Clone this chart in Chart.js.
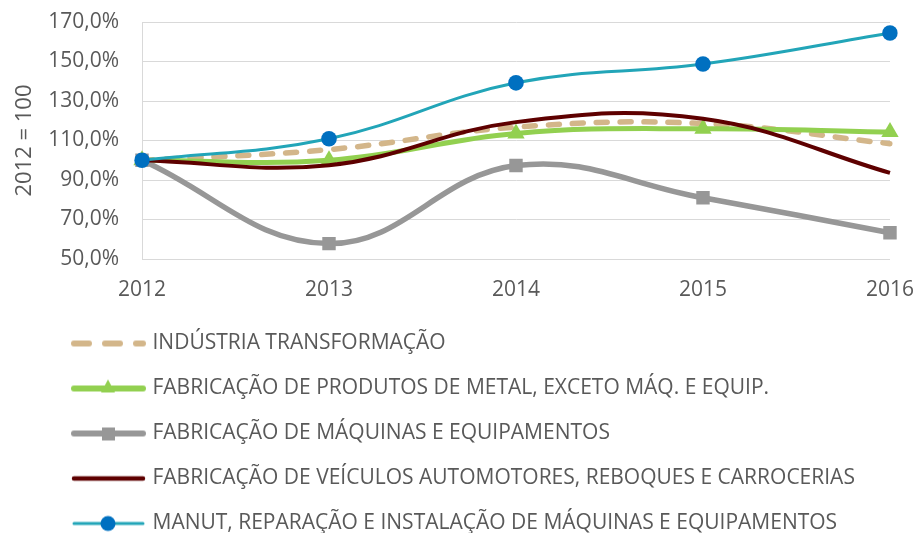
<!DOCTYPE html>
<html>
<head>
<meta charset="utf-8">
<script src="https://cdn.jsdelivr.net/npm/chart.js@4"></script>
<style>
  body { margin: 0; background: #fff; }
  .wrap { width: 914px; height: 533px; position: relative; }
</style>
</head>
<body>
<div class="wrap"><canvas id="myChart"></canvas></div>
<script>
const years = ['2012', '2013', '2014', '2015', '2016'];
const industria = [100, 105.4, 116.8, 118.6, 108.4];
const metal = [100, 100, 113.6, 116, 114.3];
const maquinas = [100, 57.8, 97.3, 81, 63.3];
const veiculos = [100, 97.5, 119.3, 121, 93.6];
const manut = [100, 110.9, 139.2, 148.7, 164.4];
const seriesNames = [
  'INDÚSTRIA TRANSFORMAÇÃO',
  'FABRICAÇÃO DE PRODUTOS DE METAL, EXCETO MÁQ. E EQUIP.',
  'FABRICAÇÃO DE MÁQUINAS E EQUIPAMENTOS',
  'FABRICAÇÃO DE VEÍCULOS AUTOMOTORES, REBOQUES E CARROCERIAS',
  'MANUT, REPARAÇÃO E INSTALAÇÃO DE MÁQUINAS E EQUIPAMENTOS'
];
const yMin = 50, yMax = 170, yStep = 20;

const tan = '#D3B68A', green = '#92D050', gray = '#979797', darkred = '#5E0000', teal = '#22A5B8', blue = '#0070C0';
const textColor = '#595959';

// small canvases used as legend symbols (line + marker)
function legendIcon(draw) {
  const c = document.createElement('canvas');
  c.width = 80; c.height = 22;
  const g = c.getContext('2d');
  draw(g);
  return c;
}
function iconLine(g, color, w, dash) {
  g.strokeStyle = color;
  g.lineWidth = w;
  g.lineCap = 'round';
  if (dash) g.setLineDash(dash);
  g.beginPath();
  g.moveTo(7, 11);
  g.lineTo(76, 11);
  g.stroke();
  g.setLineDash([]);
}

const icons = [
  legendIcon(g => iconLine(g, tan, 6, [15, 16])),
  legendIcon(g => {
    iconLine(g, green, 6);
    g.fillStyle = green;
    g.beginPath(); g.moveTo(41, 2); g.lineTo(48, 15); g.lineTo(34, 15); g.closePath(); g.fill();
  }),
  legendIcon(g => {
    iconLine(g, gray, 6);
    g.fillStyle = gray;
    g.fillRect(35, 5, 13, 13);
  }),
  legendIcon(g => iconLine(g, darkred, 4.5)),
  legendIcon(g => {
    iconLine(g, teal, 3);
    g.fillStyle = blue;
    g.beginPath(); g.arc(41, 11, 7.5, 0, Math.PI * 2); g.fill();
  })
];

// put the legend block where the reference has it
const legendShift = {
  id: 'legendShift',
  afterLayout(chart) {
    chart.legend.left = 48;
    chart.legend.top = 309;
  }
};

Chart.defaults.font.family = '"Open Sans", sans-serif';
Chart.defaults.font.size = 21;
Chart.defaults.color = textColor;

const ctx = document.getElementById('myChart');

var chart = new Chart(ctx, {
  type: 'line',
  data: {
    labels: years,
    datasets: [{
      label: seriesNames[0],
      data: industria,
      borderColor: tan,
      backgroundColor: tan,
      borderWidth: 5.5,
      borderDash: [11, 13],
      borderCapStyle: 'round',
      pointRadius: 0,
      order: 5
    }, {
      label: seriesNames[1],
      data: metal,
      borderColor: green,
      backgroundColor: green,
      borderWidth: 5,
      pointStyle: 'triangle',
      pointRadius: 10,
      pointBorderWidth: 0,
      order: 4
    }, {
      label: seriesNames[2],
      data: maquinas,
      borderColor: gray,
      backgroundColor: gray,
      borderWidth: 5.5,
      pointStyle: 'rect',
      pointRadius: 9.5,
      pointBorderWidth: 0,
      order: 3
    }, {
      label: seriesNames[3],
      data: veiculos,
      borderColor: darkred,
      backgroundColor: darkred,
      borderWidth: 4,
      pointRadius: 0,
      order: 2
    }, {
      label: seriesNames[4],
      data: manut,
      borderColor: teal,
      backgroundColor: blue,
      borderWidth: 3,
      pointStyle: 'circle',
      pointRadius: 7.8,
      pointBorderWidth: 0,
      order: 1
    }]
  },
  options: {
    responsive: true,
    maintainAspectRatio: false,
    animation: false,
    elements: { line: { tension: 0.4 } },
    layout: { padding: { left: 9, top: 22, right: 4, bottom: 0 } },
    scales: {
      x: {
        grid: { display: true, drawOnChartArea: false, drawTicks: true, tickLength: 18, tickColor: 'rgba(0,0,0,0)' },
        border: { display: true, color: '#D9D9D9' },
        ticks: { padding: 0, color: textColor, maxRotation: 0 },
        afterFit: scale => { scale.height = 45; }
      },
      y: {
        min: yMin,
        max: yMax,
        ticks: {
          stepSize: yStep,
          padding: 0,
          color: textColor,
          callback: v => v.toFixed(1).replace('.', ',') + '%'
        },
        grid: { color: '#D9D9D9', drawTicks: true, tickLength: 23, tickColor: 'rgba(0,0,0,0)' },
        border: { color: '#D9D9D9' },
        title: { display: true, text: '2012 = 100', color: textColor, font: { size: 22 }, padding: { top: 3, bottom: 3 } },
        afterFit: scale => { scale.width = 133; }
      }
    },
    plugins: {
      tooltip: { enabled: false },
      legend: {
        position: 'bottom',
        align: 'start',
        maxHeight: 229,
        labels: {
          usePointStyle: true,
          pointStyleWidth: 70,
          padding: 24,
          color: textColor,
          generateLabels: c => c.data.datasets.map((ds, i) => ({
            text: ds.label,
            pointStyle: icons[i],
            fillStyle: ds.borderColor,
            strokeStyle: ds.borderColor,
            lineWidth: 0,
            fontColor: textColor,
            hidden: false,
            datasetIndex: i
          }))
        }
      }
    }
  },
  plugins: [legendShift]
});
</script>
</body>
</html>
